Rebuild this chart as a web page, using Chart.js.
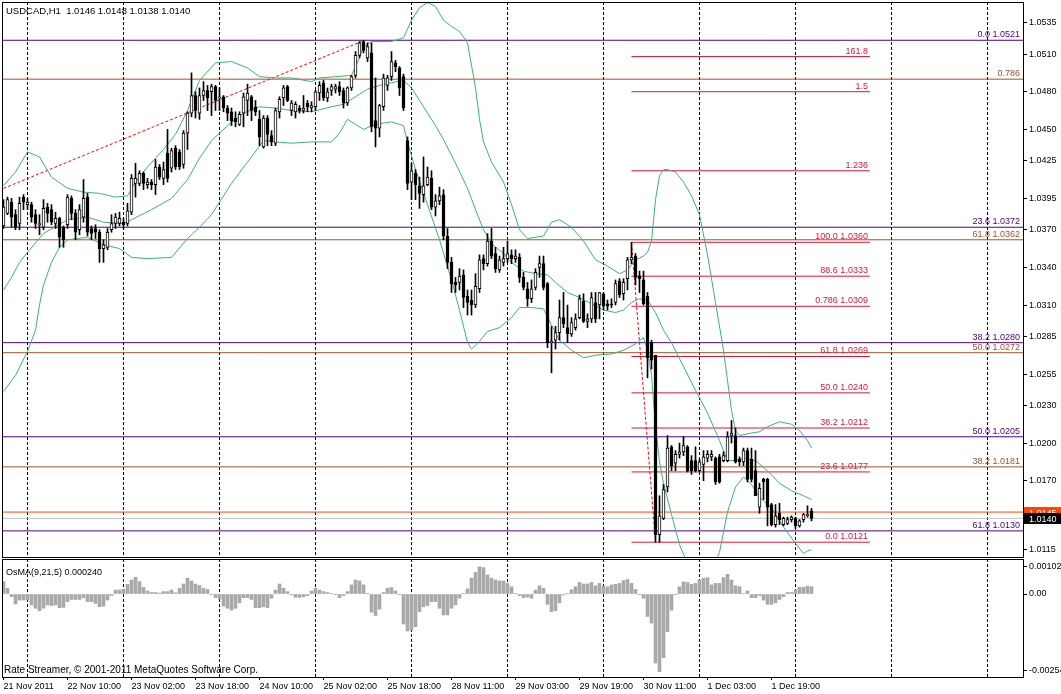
<!DOCTYPE html>
<html>
<head>
<meta charset="utf-8">
<title>USDCAD,H1</title>
<script src="https://cdn.jsdelivr.net/npm/chart.js@4/dist/chart.umd.min.js"></script>
<style>
  html, body { margin: 0; padding: 0; background: #fff; }
  #wrap { position: relative; width: 1061px; height: 694px; overflow: hidden; background: #fff; }
  #main { position: absolute; left: 0; top: 0; }
  #osma { position: absolute; left: 0; top: 557px; }
</style>
</head>
<body>
<div id="wrap">
  <canvas id="main" width="1061" height="559"></canvas>
  <canvas id="osma" width="1061" height="137"></canvas>
</div>
<script>
// hourly bars, 21 Nov 2011 18:00 .. 2 Dec 2011 05:00
const opens = [
  1.0373,1.0383,1.0392,1.0382,1.0375,1.0396,1.0390,1.0390,1.0382,1.0374,
  1.0372,1.0388,1.0386,1.0375,1.0379,1.0372,1.0374,1.0395,1.0383,1.0370,
  1.0380,1.0396,1.0371,1.0371,1.0368,1.0355,1.0356,1.0370,1.0375,1.0375,
  1.0376,1.0375,1.0384,1.0407,1.0407,1.0415,1.0406,1.0408,1.0406,1.0420,
  1.0411,1.0431,1.0419,1.0435,1.0432,1.0422,1.0447,1.0463,1.0477,1.0463,
  1.0477,1.0481,1.0480,1.0484,1.0475,1.0476,1.0467,1.0464,1.0459,1.0454,
  1.0463,1.0473,1.0476,1.0468,1.0458,1.0436,1.0459,1.0445,1.0439,1.0464,
  1.0475,1.0484,1.0465,1.0464,1.0467,1.0465,1.0471,1.0467,1.0468,1.0479,
  1.0487,1.0475,1.0481,1.0482,1.0484,1.0481,1.0471,1.0483,1.0493,1.0509,
  1.0520,1.0507,1.0511,1.0457,1.0451,1.0468,1.0485,1.0492,1.0503,1.0499,
  1.0492,1.0441,1.0408,1.0415,1.0405,1.0398,1.0406,1.0411,1.0388,1.0393,
  1.0398,1.0365,1.0344,1.0328,1.0328,1.0334,1.0317,1.0314,1.0310,1.0323,
  1.0347,1.0343,1.0361,1.0351,1.0338,1.0344,1.0347,1.0350,1.0347,1.0348,
  1.0332,1.0323,1.0315,1.0324,1.0340,1.0343,1.0327,1.0280,1.0282,1.0288,
  1.0300,1.0292,1.0287,1.0292,1.0300,1.0313,1.0297,1.0299,1.0312,1.0310,
  1.0319,1.0311,1.0311,1.0312,1.0329,1.0319,1.0331,1.0346,1.0349,1.0333,
  1.0330,1.0317,1.0280,1.0270,1.0127,1.0140,1.0165,1.0197,1.0184,1.0191,
  1.0193,1.0197,1.0186,1.0186,1.0178,1.0183,1.0188,1.0189,1.0188,1.0189,
  1.0186,1.0186,1.0206,1.0206,1.0187,1.0185,1.0194,1.0187,1.0178,1.0149,
  1.0171,1.0171,1.0151,1.0135,1.0144,1.0135,1.0136,1.0139,1.0140,1.0134,
  1.0139,1.0142,1.0146
];
const highs = [
  1.0394,1.0396,1.0395,1.0386,1.0396,1.0398,1.0395,1.0392,1.0386,1.0382,
  1.0394,1.0391,1.0390,1.0384,1.0380,1.0373,1.0398,1.0397,1.0386,1.0390,
  1.0410,1.0399,1.0373,1.0374,1.0370,1.0362,1.0371,1.0382,1.0383,1.0384,
  1.0379,1.0391,1.0414,1.0423,1.0417,1.0416,1.0411,1.0410,1.0426,1.0422,
  1.0424,1.0450,1.0435,1.0437,1.0434,1.0449,1.0464,1.0495,1.0480,1.0483,
  1.0488,1.0485,1.0486,1.0485,1.0483,1.0477,1.0469,1.0467,1.0464,1.0464,
  1.0479,1.0486,1.0477,1.0473,1.0465,1.0461,1.0461,1.0449,1.0467,1.0476,
  1.0485,1.0485,1.0473,1.0472,1.0469,1.0477,1.0473,1.0472,1.0481,1.0488,
  1.0489,1.0483,1.0486,1.0486,1.0488,1.0483,1.0484,1.0493,1.0512,1.0520,
  1.0521,1.0519,1.0519,1.0491,1.0470,1.0494,1.0493,1.0512,1.0505,1.0500,
  1.0494,1.0444,1.0423,1.0418,1.0412,1.0428,1.0420,1.0417,1.0398,1.0404,
  1.0402,1.0371,1.0348,1.0332,1.0339,1.0338,1.0322,1.0322,1.0335,1.0350,
  1.0350,1.0367,1.0371,1.0356,1.0349,1.0356,1.0361,1.0354,1.0354,1.0351,
  1.0336,1.0328,1.0330,1.0339,1.0349,1.0349,1.0328,1.0293,1.0293,1.0314,
  1.0320,1.0310,1.0300,1.0303,1.0318,1.0319,1.0303,1.0320,1.0320,1.0320,
  1.0320,1.0314,1.0315,1.0330,1.0331,1.0331,1.0348,1.0360,1.0351,1.0337,
  1.0337,1.0320,1.0282,1.0270,1.0158,1.0167,1.0206,1.0198,1.0194,1.0200,
  1.0205,1.0198,1.0190,1.0197,1.0187,1.0194,1.0194,1.0194,1.0189,1.0191,
  1.0193,1.0209,1.0218,1.0212,1.0189,1.0196,1.0196,1.0196,1.0194,1.0168,
  1.0172,1.0172,1.0152,1.0151,1.0152,1.0141,1.0141,1.0142,1.0141,1.0139,
  1.0144,1.0150,1.0148
];
const lows = [
  1.0371,1.0382,1.0372,1.0370,1.0370,1.0386,1.0386,1.0376,1.0371,1.0366,
  1.0370,1.0376,1.0374,1.0371,1.0356,1.0356,1.0371,1.0378,1.0362,1.0366,
  1.0376,1.0365,1.0362,1.0363,1.0344,1.0344,1.0354,1.0368,1.0371,1.0373,
  1.0371,1.0373,1.0382,1.0396,1.0405,1.0402,1.0403,1.0402,1.0398,1.0410,
  1.0406,1.0408,1.0416,1.0418,1.0418,1.0419,1.0434,1.0460,1.0459,1.0458,
  1.0473,1.0465,1.0461,1.0465,1.0465,1.0464,1.0457,1.0453,1.0452,1.0453,
  1.0452,1.0461,1.0457,1.0461,1.0437,1.0435,1.0437,1.0437,1.0437,1.0459,
  1.0469,1.0472,1.0461,1.0459,1.0463,1.0463,1.0464,1.0464,1.0465,1.0473,
  1.0473,1.0472,1.0477,1.0479,1.0477,1.0467,1.0469,1.0481,1.0491,1.0507,
  1.0511,1.0504,1.0448,1.0436,1.0444,1.0465,1.0481,1.0489,1.0496,1.0477,
  1.0465,1.0402,1.0394,1.0394,1.0387,1.0392,1.0405,1.0386,1.0381,1.0390,
  1.0362,1.0339,1.0320,1.0320,1.0322,1.0308,1.0302,1.0302,1.0308,1.0320,
  1.0338,1.0341,1.0347,1.0336,1.0336,1.0341,1.0344,1.0343,1.0344,1.0328,
  1.0322,1.0309,1.0312,1.0322,1.0332,1.0322,1.0276,1.0256,1.0275,1.0282,
  1.0292,1.0280,1.0285,1.0290,1.0299,1.0296,1.0292,1.0296,1.0296,1.0299,
  1.0306,1.0306,1.0308,1.0310,1.0316,1.0314,1.0322,1.0343,1.0326,1.0320,
  1.0310,1.0252,1.0259,1.0121,1.0121,1.0139,1.0161,1.0178,1.0178,1.0188,
  1.0190,1.0177,1.0175,1.0177,1.0177,1.0170,1.0185,1.0186,1.0167,1.0168,
  1.0185,1.0185,1.0200,1.0184,1.0182,1.0182,1.0169,1.0169,1.0158,1.0144,
  1.0155,1.0134,1.0134,1.0133,1.0135,1.0134,1.0135,1.0137,1.0132,1.0133,
  1.0137,1.0141,1.0138
];
const closes = [
  1.0388,1.0394,1.0380,1.0372,1.0391,1.0392,1.0392,1.0380,1.0375,1.0375,
  1.0387,1.0383,1.0376,1.0379,1.0364,1.0362,1.0396,1.0383,1.0368,1.0386,
  1.0395,1.0368,1.0367,1.0368,1.0355,1.0358,1.0368,1.0375,1.0380,1.0379,
  1.0374,1.0385,1.0411,1.0411,1.0415,1.0407,1.0408,1.0406,1.0420,1.0412,
  1.0418,1.0411,1.0433,1.0420,1.0420,1.0447,1.0463,1.0477,1.0465,1.0477,
  1.0481,1.0475,1.0484,1.0473,1.0476,1.0467,1.0463,1.0457,1.0456,1.0462,
  1.0476,1.0479,1.0465,1.0464,1.0444,1.0459,1.0446,1.0440,1.0465,1.0474,
  1.0483,1.0473,1.0471,1.0470,1.0465,1.0467,1.0468,1.0469,1.0480,1.0485,
  1.0475,1.0480,1.0484,1.0484,1.0480,1.0471,1.0483,1.0492,1.0509,1.0519,
  1.0513,1.0516,1.0452,1.0451,1.0469,1.0491,1.0491,1.0504,1.0500,1.0483,
  1.0467,1.0407,1.0417,1.0406,1.0399,1.0405,1.0412,1.0388,1.0393,1.0397,
  1.0365,1.0344,1.0327,1.0326,1.0333,1.0316,1.0312,1.0310,1.0325,1.0346,
  1.0343,1.0361,1.0349,1.0339,1.0346,1.0347,1.0351,1.0347,1.0349,1.0332,
  1.0324,1.0315,1.0323,1.0336,1.0343,1.0324,1.0280,1.0281,1.0288,1.0300,
  1.0295,1.0287,1.0296,1.0299,1.0315,1.0297,1.0299,1.0316,1.0299,1.0320,
  1.0309,1.0309,1.0310,1.0327,1.0318,1.0328,1.0346,1.0348,1.0332,1.0331,
  1.0311,1.0268,1.0266,1.0127,1.0142,1.0163,1.0196,1.0182,1.0191,1.0193,
  1.0198,1.0178,1.0178,1.0178,1.0185,1.0189,1.0191,1.0191,1.0169,1.0169,
  1.0190,1.0205,1.0208,1.0185,1.0185,1.0194,1.0171,1.0171,1.0158,1.0164,
  1.0169,1.0149,1.0135,1.0142,1.0139,1.0140,1.0139,1.0141,1.0134,1.0138,
  1.0143,1.0143,1.0140
];

// Bollinger bands, read as [bar, price]
const upperBand = [
  [0,1.0405],[3,1.0416],[6,1.0432],[9,1.0428],[12,1.0412],[16,1.0403],[20,1.0400],[24,1.0399],
  [28,1.0396],[31,1.0397],[33,1.0408],[36,1.0420],[40,1.0434],[43,1.0446],[46,1.0465],[49,1.0489],
  [53,1.0503],[57,1.0504],[61,1.0499],[64,1.0492],[68,1.0491],[72,1.0491],[77,1.0488],[79,1.0491],
  [83,1.0492],[87,1.0493],[89,1.0507],[90,1.0516],[92,1.0520],[97,1.0520],[100,1.0523],[102,1.0537],
  [104,1.0547],[106,1.0551],[108,1.0548],[110,1.0537],[112,1.0532],[114,1.0528],[116,1.0519],[117,1.0501],
  [118,1.0483],[119,1.0458],[120,1.0440],[122,1.0424],[125,1.0408],[127,1.0390],[129,1.0370],[131,1.0363],
  [135,1.0365],[137,1.0376],[139,1.0378],[142,1.0372],[145,1.0361],[148,1.0346],[151,1.0341],[154,1.0335],
  [156,1.0338],[158,1.0346],[160,1.0349],[161,1.0352],[162,1.0361],[163,1.0394],[164,1.0413],[165,1.0418],
  [166,1.0418],[168,1.0416],[170,1.0408],[172,1.0397],[174,1.0382],[176,1.0350],[178,1.0312],[180,1.0274],
  [182,1.0226],[183,1.0210],[184,1.0206],[187,1.0208],[189,1.0209],[191,1.0213],[194,1.0217],[197,1.0215],
  [199,1.0210],[201,1.0202],[202,1.0196]
];
const middleBand = [
  [0,1.0322],[2,1.0332],[4,1.0344],[6,1.0352],[10,1.0367],[16,1.0378],[21,1.0380],[25,1.0376],
  [30,1.0375],[32,1.0378],[37,1.0386],[42,1.0395],[46,1.0410],[49,1.0427],[52,1.0441],[56,1.0453],
  [60,1.0463],[64,1.0468],[68,1.0467],[72,1.0465],[77,1.0464],[82,1.0468],[85,1.0470],[88,1.0476],
  [91,1.0482],[95,1.0486],[100,1.0489],[102,1.0483],[104,1.0473],[108,1.0453],[110,1.0442],[113,1.0423],
  [116,1.0403],[118,1.0386],[120,1.0370],[122,1.0359],[125,1.0351],[127,1.0344],[130,1.0337],[133,1.0335],
  [136,1.0334],[138,1.0328],[141,1.0320],[144,1.0316],[147,1.0311],[150,1.0306],[153,1.0304],[155,1.0306],
  [157,1.0312],[159,1.0315],[161,1.0314],[163,1.0304],[165,1.0290],[167,1.0280],[170,1.0261],[173,1.0242],
  [176,1.0224],[179,1.0202],[181,1.0186],[183,1.0186],[185,1.0188],[188,1.0186],[191,1.0178],[194,1.0168],
  [197,1.0162],[200,1.0158],[202,1.0155]
];
const lowerBand = [
  [0,1.0241],[3,1.0254],[6,1.0273],[8,1.0290],[9,1.0310],[10,1.0326],[12,1.0344],[14,1.0356],
  [16,1.0362],[21,1.0364],[25,1.0358],[29,1.0355],[32,1.0348],[36,1.0347],[42,1.0348],[46,1.0363],
  [49,1.0372],[52,1.0382],[57,1.0407],[62,1.0428],[65,1.0441],[68,1.0440],[72,1.0439],[77,1.0440],
  [82,1.0440],[84,1.0447],[86,1.0458],[88,1.0454],[90,1.0450],[93,1.0454],[97,1.0456],[100,1.0453],
  [101,1.0440],[103,1.0418],[106,1.0390],[109,1.0362],[112,1.0330],[114,1.0306],[116,1.0280],[117,1.0275],
  [119,1.0281],[121,1.0289],[124,1.0292],[127,1.0300],[129,1.0308],[132,1.0308],[135,1.0307],[137,1.0294],
  [139,1.0282],[142,1.0274],[145,1.0268],[148,1.0270],[152,1.0271],[155,1.0274],[158,1.0279],[160,1.0284],
  [161,1.0274],[162,1.0254],[163,1.0214],[164,1.0185],[165,1.0168],[167,1.0143],[169,1.0119],[171,1.0104],
  [173,1.0094],[175,1.0090],[177,1.0098],[179,1.0113],[181,1.0145],[183,1.0165],[185,1.0173],[187,1.0167],
  [189,1.0157],[192,1.0148],[195,1.0133],[198,1.0120],[200,1.0112],[201,1.0114],[202,1.0115]
];

// OsMA(9,21,5) histogram, one value per bar
const osma = [
   0.00041, 0.00019,-0.00009,-0.00033,-0.00020,-0.00020,-0.00020,-0.00036,-0.00047,-0.00055,
  -0.00047,-0.00036,-0.00038,-0.00036,-0.00045,-0.00044,-0.00025,-0.00018,-0.00018,-0.00018,
  -0.00012,-0.00025,-0.00025,-0.00031,-0.00042,-0.00040,-0.00020,-0.00005, 0.00013, 0.00013,
   0.00015, 0.00032, 0.00046, 0.00055, 0.00041, 0.00022, 0.00010, 0.00005, 0.00005, 0.00003,
   0.00008, 0.00008, 0.00013, 0.00004, 0.00019, 0.00033, 0.00052, 0.00043, 0.00033, 0.00028,
   0.00019, 0.00015,-0.00001,-0.00012,-0.00017,-0.00040,-0.00047,-0.00053,-0.00047,-0.00029,
  -0.00012,-0.00012,-0.00018,-0.00045,-0.00045,-0.00042,-0.00045,-0.00014, 0.00013, 0.00033,
   0.00019, 0.00008,-0.00003,-0.00011,-0.00011,-0.00009,-0.00005, 0.00010, 0.00019, 0.00013,
   0.00008, 0.00005, 0.00002,-0.00001,-0.00012,-0.00005, 0.00008, 0.00030, 0.00046, 0.00043,
   0.00030, 0.00001,-0.00060,-0.00071,-0.00050, 0.00005, 0.00019, 0.00021, 0.00010,-0.00001,
  -0.00099,-0.00122,-0.00119,-0.00108,-0.00058,-0.00042,-0.00038,-0.00025,-0.00025,-0.00047,
  -0.00069,-0.00069,-0.00047,-0.00036,-0.00014, 0.00002, 0.00017, 0.00052, 0.00071, 0.00090,
   0.00087, 0.00063, 0.00052, 0.00046, 0.00043, 0.00043, 0.00035, 0.00024, 0.00002,-0.00005,
  -0.00012,-0.00010,-0.00014, 0.00013, 0.00027, 0.00019,-0.00034,-0.00058,-0.00055,-0.00029,
  -0.00003, 0.00002, 0.00014, 0.00024, 0.00038, 0.00033, 0.00033, 0.00038, 0.00027, 0.00035,
   0.00026, 0.00024, 0.00030, 0.00032, 0.00035, 0.00044, 0.00048, 0.00035, 0.00015,-0.00001,
  -0.00014,-0.00074,-0.00096,-0.00228,-0.00256,-0.00210,-0.00124,-0.00053,-0.00001, 0.00024,
   0.00040, 0.00038, 0.00032, 0.00035, 0.00046, 0.00052, 0.00054, 0.00030, 0.00035, 0.00035,
   0.00054, 0.00065, 0.00046, 0.00027, 0.00024, 0.00002, 0.00010,-0.00012,-0.00012,-0.00005,
  -0.00020,-0.00034,-0.00034,-0.00029,-0.00018,-0.00009, 0.00005, 0.00005, 0.00013, 0.00022,
   0.00022, 0.00026, 0.00024
];

// horizontal levels
const purpleLevels = [1.0521, 1.0372, 1.0280, 1.0205, 1.0130];
const purpleLabels = ['0.0 1.0521', '23.6 1.0372', '38.2 1.0280', '50.0 1.0205', '61.8 1.0130'];
const brownLevels = [1.0490, 1.0362, 1.0272, 1.0181];
const brownLabels = ['0.786', '61.8 1.0362', '50.0 1.0272', '38.2 1.0181'];
const fibLevels = [1.0508, 1.0480, 1.0417, 1.0360, 1.0333, 1.0309, 1.0269, 1.0240, 1.0212, 1.0177, 1.0121];
const fibLabels = ['161.8', '1.5', '1.236', '100.0 1.0360', '88.6 1.0333', '0.786 1.0309',
                   '61.8 1.0269', '50.0 1.0240', '38.2 1.0212', '23.6 1.0177', '0.0 1.0121'];
const fibStartBar = 157;
const fibEndBar = 216.6;
const trendUp = [[0, 1.0403], [89.5, 1.0520]];
const trendDown = [[157, 1.0360], [163, 1.0121]];
const askPrice = 1.0145;
const bidPrice = 1.0140;

// axes
const priceTicks = [1.0535, 1.0510, 1.0480, 1.0450, 1.0425, 1.0395, 1.0370, 1.0340,
                    1.0310, 1.0285, 1.0255, 1.0230, 1.0200, 1.0170, 1.0145, 1.0115];
const timeLabels = ['21 Nov 2011', '22 Nov 10:00', '23 Nov 02:00', '23 Nov 18:00', '24 Nov 10:00',
                    '25 Nov 02:00', '25 Nov 18:00', '28 Nov 11:00', '29 Nov 03:00', '29 Nov 19:00',
                    '30 Nov 11:00', '1 Dec 03:00', '1 Dec 19:00'];
const timeLabelBars = [0, 16, 32, 48, 64, 80, 96, 112, 128, 144, 160, 176, 192];
const gridBars = [6, 30, 54, 78, 102, 126, 150, 174, 198, 222, 246];
const osmaTicks = [0.0009, 0, -0.00253];
const osmaTickLabels = ['0.001029', '0.00', '-0.00254'];

const X_MIN = -0.375, X_MAX = 254.875;
const Y_MIN = 1.01092, Y_MAX = 1.05515;
const OSMA_MIN = -0.002738, OSMA_MAX = 0.001155;

const FAMILY = '"Liberation Sans", Arial, sans-serif';
const FONT = '9px ' + FAMILY;
const PURPLE = '#4b0082', BROWN = '#a0522d', CRIMSON = '#dc143c', GREEN = '#3cb371';

const frame = {
    id: 'frame',
    afterDraw(chart) {
        const { ctx, chartArea: a } = chart;
        ctx.save();
        ctx.strokeStyle = '#000';
        ctx.lineWidth = 1;
        ctx.strokeRect(Math.round(a.left) + 0.5, Math.round(a.top) + 0.5,
            Math.round(a.right - a.left), Math.round(a.bottom - a.top));
        ctx.restore();
    }
};

// keep chart.js from reserving room for half labels at the axis ends
function noEdgePadding(s) {
    s.paddingTop = 0;
    s.paddingBottom = 0;
    s.paddingLeft = 0;
    s.paddingRight = 0;
}

function hline(p, x1, x2, color, order) {
    return {
        type: 'line', data: [{ x: x1, y: p }, { x: x2, y: p }],
        borderColor: color, borderWidth: 1, pointRadius: 0, order
    };
}

function band(points) {
    return {
        type: 'line', data: points.map(([x, y]) => ({ x, y })),
        borderColor: GREEN, borderWidth: 1, pointRadius: 0, tension: 0, order: 2
    };
}

function trend(points) {
    return {
        type: 'line', data: points.map(([x, y]) => ({ x, y })),
        borderColor: '#ff0000', borderWidth: 1, borderDash: [3, 2], pointRadius: 0, order: 3
    };
}

const mainLabels = {
    id: 'mainLabels',
    afterDraw(chart) {
        const { ctx, chartArea: a, scales: { x, y } } = chart;
        ctx.save();
        ctx.font = FONT;
        ctx.textBaseline = 'alphabetic';
        ctx.textAlign = 'right';
        ctx.fillStyle = PURPLE;
        purpleLevels.forEach((p, i) => ctx.fillText(purpleLabels[i], a.right - 3, y.getPixelForValue(p) - 3));
        ctx.fillStyle = BROWN;
        brownLevels.forEach((p, i) => ctx.fillText(brownLabels[i], a.right - 3, y.getPixelForValue(p) - 3));
        ctx.fillStyle = CRIMSON;
        const fx = x.getPixelForValue(fibEndBar) - 2;
        fibLevels.forEach((p, i) => ctx.fillText(fibLabels[i], fx, y.getPixelForValue(p) - 3));

        ctx.textAlign = 'left';
        ctx.fillStyle = '#000';
        ctx.font = '9.5px ' + FAMILY;
        const n = closes.length - 1;
        ctx.fillText('USDCAD,H1  ' + [opens[n], highs[n], lows[n], closes[n]].map(v => v.toFixed(4)).join(' '), 6, 14);

        // price boxes on the axis
        ctx.font = FONT;
        const ya = y.getPixelForValue(askPrice);
        ctx.fillStyle = '#ff4500';
        ctx.fillRect(a.right + 1, Math.round(ya) - 5, 38, 11);
        ctx.fillStyle = '#fff';
        ctx.fillText(askPrice.toFixed(4), a.right + 6, Math.round(ya) + 4);
        const yb = y.getPixelForValue(bidPrice);
        ctx.fillStyle = '#000';
        ctx.fillRect(a.right + 1, Math.round(yb) - 5, 38, 11);
        ctx.fillStyle = '#fff';
        ctx.fillText(bidPrice.toFixed(4), a.right + 6, Math.round(yb) + 4);
        ctx.restore();
    }
};

const bars = closes.map((_, i) => i);
const levelSets = [
    ...purpleLevels.map(p => hline(p, X_MIN, X_MAX, PURPLE, 5)),
    ...brownLevels.map(p => hline(p, X_MIN, X_MAX, BROWN, 5)),
    ...fibLevels.map(p => hline(p, fibStartBar, fibEndBar, CRIMSON, 5)),
    hline(askPrice, X_MIN, X_MAX, '#ff4500', 4),
    hline(bidPrice, X_MIN, X_MAX, '#c0c0c0', 4)
];

new Chart(document.getElementById('main'), {
    type: 'bar',
    data: {
        datasets: [
            ...levelSets,
            trend(trendUp),
            trend(trendDown),
            band(upperBand),
            band(middleBand),
            band(lowerBand),
            {
                data: bars.map(i => ({ x: i, y: [lows[i], highs[i]] })),
                backgroundColor: '#000', barThickness: 1, grouped: false,
                borderSkipped: false, minBarLength: 1, order: 1
            },
            {
                data: bars.map(i => ({ x: i, y: [opens[i], closes[i]] })),
                backgroundColor: bars.map(i => closes[i] >= opens[i] ? '#fff' : '#000'),
                borderColor: '#000', borderWidth: 1, borderSkipped: false,
                barThickness: 3, grouped: false, minBarLength: 1, order: 0
            }
        ]
    },
    options: {
        responsive: false,
        animation: false,
        layout: { padding: { left: 2, top: 2, right: 0, bottom: 2 } },
        plugins: { legend: { display: false }, tooltip: { enabled: false } },
        scales: {
            x: {
                type: 'linear', min: X_MIN, max: X_MAX, offset: false,
                afterBuildTicks: s => { s.ticks = gridBars.map(v => ({ value: v })); },
                afterFit: s => { s.height = 0; noEdgePadding(s); },
                ticks: { display: false },
                grid: { color: '#000', lineWidth: 1, drawTicks: false, offset: false },
                border: { display: false, dash: [3, 2] }
            },
            y: {
                position: 'right', min: Y_MIN, max: Y_MAX,
                afterBuildTicks: s => { s.ticks = priceTicks.map(v => ({ value: v })); },
                afterFit: s => { s.width = 38; noEdgePadding(s); },
                ticks: { callback: v => v.toFixed(4), color: '#000', padding: 2, autoSkip: false,
                         font: { family: FAMILY, size: 9 } },
                grid: { drawOnChartArea: false, tickLength: 4, color: '#000' },
                border: { display: false }
            }
        }
    },
    plugins: [frame, mainLabels]
});

const osmaLabels = {
    id: 'osmaLabels',
    afterDraw(chart) {
        const { ctx } = chart;
        ctx.save();
        ctx.fillStyle = '#000';
        ctx.textAlign = 'left';
        ctx.textBaseline = 'alphabetic';
        ctx.font = FONT;
        ctx.fillText('OsMA(9,21,5) ' + osma[osma.length - 1].toFixed(6), 6, 18);
        ctx.font = '10px ' + FAMILY;
        ctx.fillText('Rate Streamer, \u00a9 2001-2011 MetaQuotes Software Corp.', 4, 116);
        ctx.restore();
    }
};

new Chart(document.getElementById('osma'), {
    type: 'bar',
    data: {
        datasets: [{
            data: osma.map((v, i) => ({ x: i, y: v })),
            backgroundColor: '#a9a9a9', barThickness: 3, grouped: false, borderWidth: 0
        }]
    },
    options: {
        responsive: false,
        animation: false,
        layout: { padding: { left: 2, top: 2, right: 0, bottom: 0 } },
        plugins: { legend: { display: false }, tooltip: { enabled: false } },
        scales: {
            x: {
                type: 'linear', position: 'bottom', min: X_MIN, max: X_MAX, offset: false,
                afterBuildTicks: s => { s.ticks = timeLabelBars.map(v => ({ value: v })); },
                afterFit: s => { s.height = 17; noEdgePadding(s); },
                ticks: { callback: (v, i) => timeLabels[i], align: 'start', maxRotation: 0, autoSkip: false,
                         padding: 1, color: '#000', font: { family: FAMILY, size: 9 } },
                grid: { drawOnChartArea: false, tickLength: 3, color: '#000', offset: false },
                border: { display: false }
            },
            xg: {
                type: 'linear', position: 'top', min: X_MIN, max: X_MAX, offset: false,
                afterBuildTicks: s => { s.ticks = gridBars.map(v => ({ value: v })); },
                afterFit: s => { s.height = 0; noEdgePadding(s); },
                ticks: { display: false },
                grid: { color: '#000', lineWidth: 1, drawTicks: false, offset: false },
                border: { display: false, dash: [3, 2] }
            },
            y: {
                position: 'right', min: OSMA_MIN, max: OSMA_MAX,
                afterBuildTicks: s => { s.ticks = osmaTicks.map(v => ({ value: v })); },
                afterFit: s => { s.width = 38; noEdgePadding(s); },
                ticks: { callback: (v, i) => osmaTickLabels[i], color: '#000', padding: 2, autoSkip: false,
                         font: { family: FAMILY, size: 9 } },
                grid: { drawOnChartArea: false, tickLength: 4, color: '#000' },
                border: { display: false }
            }
        }
    },
    plugins: [frame, osmaLabels]
});
</script>
</body>
</html>
